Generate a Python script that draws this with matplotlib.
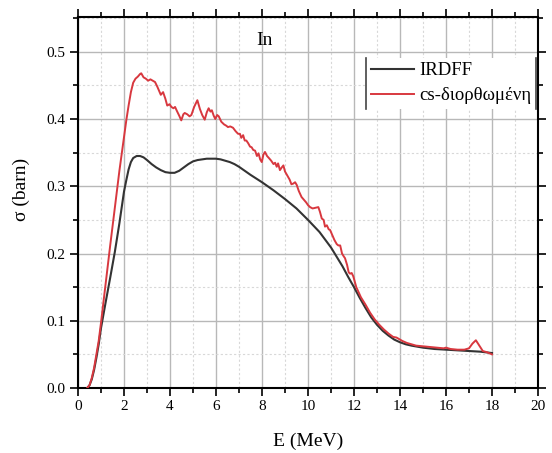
import matplotlib
matplotlib.use("Agg")
import matplotlib.pyplot as plt
from matplotlib.lines import Line2D
from matplotlib.ticker import MultipleLocator, FormatStrFormatter

plt.rcParams['font.family'] = ['Liberation Serif', 'DejaVu Serif']

# IRDFF evaluated cross section
e_irdff = [0.40, 0.50, 0.60, 0.70, 0.80, 0.90, 1.00, 1.20, 1.40, 1.60, 1.80, 2.00,
           2.10, 2.20, 2.30, 2.40, 2.55, 2.70, 2.85, 3.00, 3.20, 3.40, 3.60, 3.80,
           4.00, 4.20, 4.40, 4.60, 4.80, 5.00, 5.20, 5.40, 5.60, 5.80, 6.00, 6.20,
           6.40, 6.60, 6.80, 7.00, 7.50, 8.00, 8.50, 9.00, 9.50, 10.00, 10.50,
           11.00, 11.25, 11.50, 11.75, 12.00, 12.25, 12.50, 12.75, 13.00, 13.25,
           13.50, 13.75, 14.00, 14.25, 14.50, 15.00, 15.50, 16.00, 16.50, 17.00,
           17.50, 18.00]
s_irdff = [0.000, 0.004, 0.013, 0.027, 0.045, 0.065, 0.089, 0.127, 0.164, 0.202,
           0.245, 0.292, 0.309, 0.325, 0.336, 0.342, 0.345, 0.345, 0.343, 0.339,
           0.333, 0.328, 0.324, 0.321, 0.320, 0.320, 0.323, 0.328, 0.333, 0.337,
           0.339, 0.340, 0.341, 0.341, 0.341, 0.340, 0.338, 0.336, 0.333, 0.329,
           0.317, 0.306, 0.294, 0.281, 0.267, 0.250, 0.232, 0.209, 0.195, 0.181,
           0.165, 0.150, 0.134, 0.119, 0.105, 0.094, 0.085, 0.078, 0.072, 0.068,
           0.065, 0.063, 0.060, 0.058, 0.057, 0.056, 0.055, 0.054, 0.052]

# corrected cross section
e_corr = [0.40, 0.50, 0.60, 0.70, 0.80, 0.90, 1.00, 1.20, 1.40, 1.60, 1.80, 1.90,
          2.00, 2.10, 2.20, 2.30, 2.40, 2.50, 2.60, 2.70, 2.75, 2.85, 2.95, 3.05,
          3.15, 3.25, 3.35, 3.45, 3.55, 3.60, 3.70, 3.80, 3.88, 3.98, 4.06, 4.15,
          4.22, 4.30, 4.40, 4.49, 4.58, 4.64, 4.75, 4.85, 4.93, 5.05, 5.19, 5.30,
          5.40, 5.51, 5.60, 5.68, 5.76, 5.82, 5.90, 5.97, 6.05, 6.12, 6.23, 6.35,
          6.45, 6.52, 6.62, 6.74, 6.85, 6.96, 7.04, 7.10, 7.18, 7.25, 7.32, 7.40,
          7.48, 7.55, 7.62, 7.70, 7.78, 7.85, 7.92, 7.99, 8.06, 8.13, 8.22, 8.30,
          8.40, 8.50, 8.57, 8.64, 8.70, 8.78, 8.86, 8.93, 9.00, 9.10, 9.20, 9.28,
          9.36, 9.44, 9.51, 9.60, 9.72, 9.82, 9.92, 10.00, 10.09, 10.20, 10.32,
          10.45, 10.52, 10.60, 10.68, 10.74, 10.82, 10.90, 10.96, 11.05, 11.15,
          11.25, 11.32, 11.40, 11.48, 11.55, 11.61, 11.70, 11.77, 11.83, 11.90,
          11.97, 12.10, 12.30, 12.50, 12.70, 12.90, 13.10, 13.30, 13.50, 13.70,
          13.85, 13.95, 14.10, 14.30, 14.50, 14.70, 15.00, 15.30, 15.60, 15.90,
          16.00, 16.20, 16.50, 16.80, 17.00, 17.15, 17.30, 17.45, 17.60, 17.80,
          18.00]
s_corr = [0.000, 0.004, 0.015, 0.030, 0.050, 0.070, 0.097, 0.155, 0.212, 0.268,
          0.323, 0.348, 0.372, 0.398, 0.420, 0.440, 0.454, 0.460, 0.463, 0.467,
          0.468, 0.462, 0.460, 0.457, 0.459, 0.457, 0.455, 0.448, 0.440, 0.436,
          0.440, 0.430, 0.420, 0.422, 0.418, 0.416, 0.418, 0.412, 0.405, 0.398,
          0.407, 0.409, 0.407, 0.404, 0.406, 0.418, 0.428, 0.415, 0.406, 0.399,
          0.410, 0.416, 0.411, 0.413, 0.405, 0.400, 0.406, 0.404, 0.396, 0.392,
          0.390, 0.388, 0.389, 0.387, 0.382, 0.378, 0.378, 0.372, 0.376, 0.368,
          0.368, 0.364, 0.359, 0.358, 0.354, 0.353, 0.345, 0.349, 0.340, 0.336,
          0.347, 0.351, 0.345, 0.342, 0.338, 0.333, 0.335, 0.329, 0.334, 0.324,
          0.328, 0.331, 0.322, 0.316, 0.310, 0.303, 0.304, 0.306, 0.302, 0.293,
          0.284, 0.280, 0.276, 0.272, 0.269, 0.267, 0.268, 0.269, 0.262, 0.252,
          0.250, 0.240, 0.242, 0.236, 0.235, 0.228, 0.220, 0.214, 0.212, 0.212,
          0.200, 0.196, 0.193, 0.183, 0.172, 0.170, 0.171, 0.166, 0.150, 0.135,
          0.124, 0.112, 0.102, 0.094, 0.087, 0.081, 0.076, 0.075, 0.073, 0.070,
          0.067, 0.065, 0.063, 0.062, 0.061, 0.060, 0.059, 0.060, 0.058, 0.057,
          0.057, 0.059, 0.066, 0.071, 0.063, 0.055, 0.053, 0.050]

labels = ["IRDFF", "cs-διορθωμένη"]
colors = ["#333333", "#d8383f"]

fig = plt.figure(figsize=(5.52, 4.53), dpi=100)
ax = fig.add_axes([0.1413, 0.1435, 0.8333, 0.8179])

ax.plot(e_irdff, s_irdff, color=colors[0], lw=1.5, label=labels[0], zorder=3)
ax.plot(e_corr, s_corr, color=colors[1], lw=1.4, label=labels[1], zorder=4)

ax.set_xlim(0, 20)
ax.set_ylim(0, 0.551)
ax.xaxis.set_major_locator(MultipleLocator(2))
ax.xaxis.set_minor_locator(MultipleLocator(1))
ax.yaxis.set_major_locator(MultipleLocator(0.1))
ax.yaxis.set_minor_locator(MultipleLocator(0.05))
ax.yaxis.set_major_formatter(FormatStrFormatter('%.1f'))

ax.grid(which='major', color='#b8b8b8', lw=1.0, ls='-')
ax.grid(which='minor', color='#d8d8d8', lw=0.8, ls=(0, (2, 2)))
ax.set_axisbelow(True)

ax.tick_params(which='both', direction='out', top=True, right=True,
               labeltop=False, labelright=False, width=1.2, colors='black')
ax.tick_params(which='major', length=6, labelsize=11, pad=3)
ax.tick_params(which='minor', length=3.5)
for sp in ax.spines.values():
    sp.set_linewidth(1.5)

ax.set_xlabel("E (MeV)", fontsize=14, labelpad=14)
ax.set_ylabel("σ (barn)", fontsize=14)
ax.yaxis.set_label_coords(-0.105, 0.535)
ax.text(8.1, 0.517, "In", fontsize=14, ha='center', va='center')

leg = ax.legend(loc='upper left', bbox_to_anchor=(0.626, 0.892), fontsize=13.5,
                frameon=True, fancybox=False, handlelength=2.3, handletextpad=0.3,
                borderpad=0.25, labelspacing=0.42, borderaxespad=0)
leg.get_frame().set_edgecolor('none')
leg.get_frame().set_facecolor('white')
leg.get_frame().set_alpha(1.0)

# vertical bars on both sides of the legend box
fig.canvas.draw()
bb = leg.get_window_extent().transformed(fig.transFigure.inverted())
for xv in (bb.x0, bb.x1):
    fig.add_artist(Line2D([xv, xv], [bb.y0, bb.y1], transform=fig.transFigure,
                          color='#444444', lw=1.2, zorder=10))

fig.savefig("out.png", dpi=100)
